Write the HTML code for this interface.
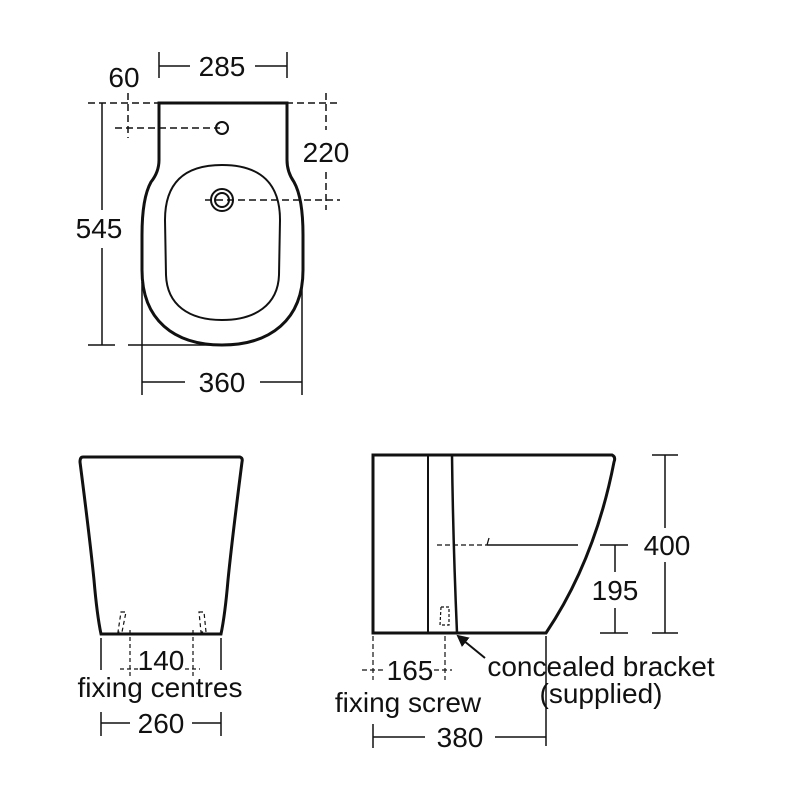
<!DOCTYPE html><html><head><style>body{margin:0;background:#fff}svg{display:block}text{font-family:"Liberation Sans",sans-serif;fill:#111}</style></head><body>
<svg width="800" height="800" viewBox="0 0 800 800" xmlns="http://www.w3.org/2000/svg">
<defs><marker id="ar" markerWidth="6" markerHeight="6" refX="5" refY="3" orient="auto"><path d="M0,0 L6,3 L0,6 z" fill="#111"/></marker></defs>
<g fill="none" stroke="#111">
<path d="M159,103 L287,103 L287,160 Q287,172 294,182 Q303,198 303,235 L303,270 C303,320 270,345 222,345 C174,345 142,320 142,270 L142,235 Q142,198 151,182 Q159,172 159,160 Z" stroke-width="3"/>
<path d="M222,165 C262,165 280,185 280,220 L279,275 C278,305 255,320 222,320 C189,320 167,305 166,275 L165,220 C165,185 182,165 222,165 Z" stroke-width="2"/>
<circle cx="222" cy="128" r="6" stroke-width="2"/>
<circle cx="222" cy="200" r="11" stroke-width="2"/><circle cx="222" cy="200" r="7" stroke-width="2"/>
<g stroke-width="1.5" stroke-dasharray="7,4">
<line x1="88" y1="103" x2="340" y2="103"/><line x1="115" y1="128" x2="220" y2="128"/><line x1="205" y1="200" x2="340" y2="200"/>
<line x1="128" y1="93" x2="128" y2="138"/><line x1="326" y1="93" x2="326" y2="130"/><line x1="326" y1="172" x2="326" y2="210"/>
</g>
<g stroke-width="1.5">
<line x1="159" y1="52" x2="159" y2="78"/><line x1="287" y1="52" x2="287" y2="78"/>
<line x1="159" y1="66" x2="190" y2="66"/><line x1="255" y1="66" x2="287" y2="66"/>
<line x1="102" y1="103" x2="102" y2="210"/><line x1="102" y1="248" x2="102" y2="345"/>
<line x1="88" y1="345" x2="115" y2="345"/><line x1="128" y1="345" x2="222" y2="345"/>
<line x1="142" y1="282" x2="142" y2="395"/><line x1="302" y1="282" x2="302" y2="395"/>
<line x1="142" y1="382" x2="185" y2="382"/><line x1="260" y1="382" x2="302" y2="382"/>
</g>
<path d="M83,457 L240,457 Q243,458 242,462 Q232,540 228,580 Q225,615 221,634 L101,634 Q97,615 94,580 Q90,540 80,462 Q80,457 83,457 Z" stroke-width="3"/>
<g stroke-width="1.2" stroke-dasharray="4,3">
<line x1="130" y1="630" x2="130" y2="676"/><line x1="193" y1="630" x2="193" y2="676"/>
<line x1="120" y1="669" x2="140" y2="669"/><line x1="185" y1="669" x2="200" y2="669"/>
<path d="M121,612 L126,612 L122,632 L118,632 Z"/><path d="M199,612 L204,612 L206,632 L201,632 Z"/>
</g>
<g stroke-width="1.5">
<line x1="101" y1="638" x2="101" y2="670"/><line x1="221" y1="638" x2="221" y2="670"/>
<line x1="101" y1="712" x2="101" y2="736"/><line x1="221" y1="712" x2="221" y2="736"/>
<line x1="101" y1="723" x2="130" y2="723"/><line x1="192" y1="723" x2="221" y2="723"/>
</g>
<path d="M373,455 L612,455 Q616,457 614,462 Q595,560 546,633 L373,633 Z" stroke-width="3"/>
<line x1="428" y1="455" x2="428" y2="633" stroke-width="2"/>
<path d="M452,455 Q453,540 457,633" stroke-width="2.5"/>
<line x1="437" y1="545" x2="487" y2="545" stroke-width="1.3" stroke-dasharray="5,3"/>
<line x1="487" y1="545" x2="578" y2="545" stroke-width="1.5"/>
<line x1="489" y1="538" x2="487" y2="545" stroke-width="1.3"/>
<path d="M441,607 L449,607 L449,625 L440,625 Z" stroke-width="1.2" stroke-dasharray="3,2"/>
<g stroke-width="1.2" stroke-dasharray="5,3">
<line x1="373" y1="636" x2="373" y2="680"/><line x1="445" y1="636" x2="445" y2="680"/>
<line x1="362" y1="670" x2="384" y2="670"/><line x1="434" y1="670" x2="452" y2="670"/>
</g>
<line x1="485" y1="658" x2="458" y2="636" stroke-width="2" marker-end="url(#ar)"/>
<g stroke-width="1.5">
<line x1="652" y1="455" x2="678" y2="455"/><line x1="652" y1="633" x2="678" y2="633"/>
<line x1="665" y1="455" x2="665" y2="528"/><line x1="665" y1="562" x2="665" y2="633"/>
<line x1="600" y1="545" x2="628" y2="545"/><line x1="600" y1="633" x2="628" y2="633"/>
<line x1="615" y1="545" x2="615" y2="572"/><line x1="615" y1="608" x2="615" y2="633"/>
<line x1="546" y1="636" x2="546" y2="746"/><line x1="373" y1="724" x2="373" y2="748"/>
<line x1="373" y1="737" x2="425" y2="737"/><line x1="495" y1="737" x2="546" y2="737"/>
</g>
</g>
<g font-size="28">
<text x="222" y="76" text-anchor="middle">285</text>
<text x="124" y="87" text-anchor="middle">60</text>
<text x="326" y="162" text-anchor="middle">220</text>
<text x="99" y="238" text-anchor="middle">545</text>
<text x="222" y="392" text-anchor="middle">360</text>
<text x="161" y="670" text-anchor="middle">140</text>
<text x="160" y="697" text-anchor="middle">fixing centres</text>
<text x="161" y="733" text-anchor="middle">260</text>
<text x="667" y="555" text-anchor="middle">400</text>
<text x="615" y="600" text-anchor="middle">195</text>
<text x="410" y="680" text-anchor="middle">165</text>
<text x="408" y="712" text-anchor="middle">fixing screw</text>
<text x="601" y="676" text-anchor="middle">concealed bracket</text>
<text x="601" y="703" text-anchor="middle">(supplied)</text>
<text x="460" y="747" text-anchor="middle">380</text>
</g>
</svg>
</body></html>
